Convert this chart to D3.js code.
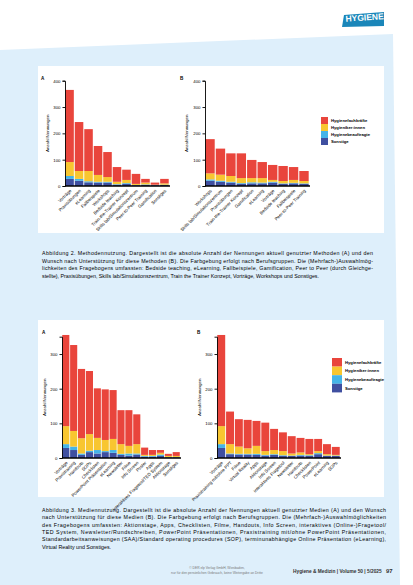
<!DOCTYPE html>
<html>
<head>
<meta charset="utf-8">
<script src="https://cdn.jsdelivr.net/npm/d3@7"></script>
<style>
  body { margin:0; background:#fff; }
  text { font-family: "Liberation Sans", Arial, sans-serif; }
</style>
</head>
<body>
<div id="page"></div>
<script>
// series: Sonstige, Hygienebeauftragte, Hygieniker:innen, Hygienefachkräfte (bottom -> top)
var series_names = ["Sonstige", "Hygienebeauftragte", "Hygieniker:innen", "Hygienefachkräfte"]
var series_colors = ["#3f4fa0", "#45b4e8", "#f8c630", "#e9453c"]
var legend_names = ["Hygienefachkräfte", "Hygieniker:innen", "Hygienebeauftragte", "Sonstige"]

// Abb. 2 A
var m_a_cats = ["Vorträge", "Praxisübungen", "eLearning", "Fallbeispiele", "Workshops", "Bedside teaching", "Train-the-Trainer Konzept", "Skills lab/Simulationszentrum", "Peer-to-Peer Training", "Gamification", "Sonstiges"]
var m_a_sonst = [27, 20, 14, 13, 13, 5, 8, 3, 4, 3, 4]
var m_a_beauf = [11, 7, 4, 3, 3, 2, 3, 1, 2, 1, 1]
var m_a_hyg   = [53, 30, 39, 26, 18, 9, 12, 4, 7, 1, 5]
var m_a_fach  = [274, 186, 159, 110, 95, 56, 39, 38, 14, 8, 17]
// Abb. 2 B
var m_b_cats = ["Workshops", "Skills lab/Simulationszentrum", "Praxisübungen", "Train-the-Trainer Konzept", "Gamification", "eLearning", "Vorträge", "Bedside teaching", "Fallbeispiele", "Peer-to-Peer Training"]
var m_b_sonst = [20, 16, 13, 8, 10, 10, 13, 8, 10, 8]
var m_b_beauf = [5, 4, 3, 3, 4, 3, 3, 2, 2, 2]
var m_b_hyg   = [23, 23, 22, 19, 16, 17, 7, 9, 11, 9]
var m_b_fach  = [130, 99, 86, 94, 69, 61, 57, 57, 49, 38]

// Abb. 3 A
var d_a_cats = ["Vorträge", "Praxistraining", "Handouts", "SOPs", "Checklisten", "PowerPoint Präsentation", "eLearning", "Newsletter", "Filme", "Info Screen", "Poster", "Apps", "interaktives Fragetool/TED System", "Aktionstage", "Sonstiges"]
var d_a_sonst = [29, 23, 9, 17, 13, 17, 15, 9, 7, 10, 4, 4, 6, 2, 2]
var d_a_beauf = [11, 10, 4, 4, 10, 3, 8, 3, 6, 3, 2, 2, 4, 1, 1]
var d_a_hyg   = [52, 45, 44, 48, 35, 32, 32, 28, 22, 27, 3, 3, 5, 3, 3]
var d_a_fach  = [263, 248, 200, 182, 143, 146, 141, 98, 103, 86, 21, 14, 8, 6, 11]
// Abb. 3 B
var d_b_cats = ["Vorträge", "Praxistraining mit/ohne PPT", "Filme", "Virtual Reality", "Apps", "Aktionstage", "Info Screen", "interaktives Fragetool", "Newsletter", "Handouts", "Checklisten", "PowerPoint", "eLearning", "SOPs"]
var d_b_sonst = [29, 11, 10, 10, 9, 7, 9, 6, 6, 7, 6, 11, 6, 6]
var d_b_beauf = [11, 2, 2, 2, 3, 2, 2, 2, 1, 2, 2, 3, 1, 1]
var d_b_hyg   = [52, 27, 21, 16, 23, 11, 12, 12, 6, 7, 3, 6, 4, 2]
var d_b_fach  = [263, 94, 79, 82, 72, 82, 61, 54, 50, 42, 44, 35, 29, 23]

var svg = d3.select("#page").append("svg")
    .attr("width", 413)
    .attr("height", 585)

// blue panel
svg.append("path")
  .attr("d", "M0,50 L393,34 L400,585 L0,585 Z")
  .attr("fill", "#deeffb")

// logo
var logo = svg.append("g").attr("transform", "translate(342,12)")
logo.append("path").attr("d", "M2,3 L42,0 L42,14 L0,15 Z").attr("fill", "#1a86b9")
logo.append("text").attr("x", 3).attr("y", 10)
  .attr("font-size", 8.5).attr("fill", "#fff").attr("font-weight", "bold")
  .attr("transform", "rotate(-4)")
  .text("HYGIENE")

// white boxes
svg.append("rect").attr("x", 38).attr("y", 66).attr("width", 346).attr("height", 167).attr("fill", "#fff")
svg.append("rect").attr("x", 38).attr("y", 320).attr("width", 346).attr("height", 177).attr("fill", "#fff")

function make_rows(cats, s0, s1, s2, s3){
  return cats.map(function(c, i){
    return {cat: c, s0: s0[i], s1: s1[i], s2: s2[i], s3: s3[i]}
  })
}

function draw_chart(cfg){
  var g = svg.append("g")
  var rows = make_rows(cfg.cats, cfg.s0, cfg.s1, cfg.s2, cfg.s3)
  var x = d3.scaleBand().domain(cfg.cats).range([cfg.x0, cfg.x1]).paddingInner(0.1).paddingOuter(0.03)
  var y = d3.scaleLinear().domain([0, cfg.ymax]).range([cfg.y0, cfg.y1])
  var stack = d3.stack().keys(["s0", "s1", "s2", "s3"])(rows)

  g.selectAll(".layer").data(stack).enter().append("g")
    .attr("fill", function(d, i){ return series_colors[i] })
    .selectAll("rect").data(function(d){ return d }).enter().append("rect")
    .attr("x", function(d){ return x(d.data.cat) })
    .attr("width", x.bandwidth())
    .attr("y", function(d){ return y(d[1]) })
    .attr("height", function(d){ return y(d[0]) - y(d[1]) })

  var ya = g.append("g").attr("transform", "translate(" + cfg.x0 + ",0)")
    .call(d3.axisLeft(y).tickValues(cfg.ticks).tickSize(2.5).tickSizeOuter(2.5).tickPadding(2))
  ya.selectAll("text").attr("font-size", 4.3).attr("font-family", "Liberation Sans, Arial")
  ya.selectAll("path, line").attr("stroke", "#000").attr("stroke-width", 0.9)

  g.append("line").attr("x1", cfg.x0).attr("x2", cfg.x1 + 1).attr("y1", cfg.y0).attr("y2", cfg.y0)
    .attr("stroke", "#000").attr("stroke-width", 1.3)

  g.selectAll(".cl").data(cfg.cats).enter().append("text")
    .attr("transform", function(d){
      return "translate(" + (x(d) + x.bandwidth() / 2 + 1) + "," + (cfg.y0 + 4) + ") rotate(-45)"
    })
    .attr("text-anchor", "end")
    .attr("dy", "0.35em")
    .attr("font-size", 4.4)
    .text(function(d){ return d })

  g.append("text")
    .attr("transform", "translate(" + cfg.tx + "," + ((cfg.y0 + cfg.y1) / 2) + ") rotate(-90)")
    .attr("text-anchor", "middle")
    .attr("font-size", 4.4)
    .text("Anzahl Nennungen")

  g.append("text").attr("x", cfg.lx).attr("y", cfg.ly).attr("font-size", 4.6).attr("font-weight", "bold").text(cfg.letter)
}

function draw_legend(lx, ly, sw, sh, fs){
  var lg = svg.append("g").attr("transform", "translate(" + lx + "," + ly + ")")
  var items = lg.selectAll("g").data(legend_names).enter().append("g")
    .attr("transform", function(d, i){ return "translate(0," + (i * sh) + ")" })
  items.append("rect").attr("width", sw).attr("height", sh)
    .attr("fill", function(d, i){ return series_colors[3 - i] })
  items.append("text").attr("x", sw + 3).attr("y", sh / 2).attr("dy", "0.35em")
    .attr("font-size", fs).attr("font-weight", "bold").text(function(d){ return d })
}

// Abbildung 2
draw_chart({cats: m_a_cats, s0: m_a_sonst, s1: m_a_beauf, s2: m_a_hyg, s3: m_a_fach,
  x0: 65, x1: 169, y0: 186, y1: 80.7, ymax: 400, ticks: [0, 100, 200, 300, 400], tx: 49, lx: 41, ly: 80, letter: "A"})
draw_chart({cats: m_b_cats, s0: m_b_sonst, s1: m_b_beauf, s2: m_b_hyg, s3: m_b_fach,
  x0: 205, x1: 309, y0: 186, y1: 80.7, ymax: 400, ticks: [0, 100, 200, 300, 400], tx: 188, lx: 180, ly: 80, letter: "B"})
draw_legend(321, 117, 7, 7, 4.2)

// Abbildung 3
draw_chart({cats: d_a_cats, s0: d_a_sonst, s1: d_a_beauf, s2: d_a_hyg, s3: d_a_fach,
  x0: 62, x1: 180, y0: 458, y1: 336.7, ymax: 350, ticks: [0, 100, 200, 300], tx: 46, lx: 42, ly: 334, letter: "A"})
draw_chart({cats: d_b_cats, s0: d_b_sonst, s1: d_b_beauf, s2: d_b_hyg, s3: d_b_fach,
  x0: 217, x1: 340, y0: 458, y1: 336.7, ymax: 350, ticks: [0, 100, 200, 300], tx: 201, lx: 197, ly: 334, letter: "B"})
draw_legend(332, 358, 10, 8.6, 4.2)

// captions
var cap2_lines = [
  "Abbildung 2. Methodennutzung. Dargestellt ist die absolute Anzahl der Nennungen aktuell genutzter Methoden (A) und den",
  "Wunsch nach Unterstützung für diese Methoden (B). Die Farbgebung erfolgt nach Berufsgruppen. Die (Mehrfach-)Auswahlmög-",
  "lichkeiten des Fragebogens umfassten: Bedside teaching, eLearning, Fallbeispiele, Gamification, Peer to Peer (durch Gleichge-",
  "stellte), Praxisübungen, Skills lab/Simulationszentrum, Train the Trainer Konzept, Vorträge, Workshops und Sonstiges."
]
var cap3_lines = [
  "Abbildung 3. Mediennutzung. Dargestellt ist die absolute Anzahl der Nennungen aktuell genutzter Medien (A) und den Wunsch",
  "nach Unterstützung für diese Medien (B). Die Farbgebung erfolgt nach Berufsgruppen. Die (Mehrfach-)Auswahlmöglichkeiten",
  "des Fragebogens umfassten: Aktionstage, Apps, Checklisten, Filme, Handouts, Info Screen, interaktives (Online-)Fragetool/",
  "TED System, Newsletter/Rundschreiben, PowerPoint Präsentationen, Praxistraining mit/ohne PowerPoint Präsentationen,",
  "Standardarbeitsanweisungen (SAA)/Standard operating procedures (SOP), terminunabhängige Online Präsentation (eLearning),",
  "Virtual Reality und Sonstiges."
]

function draw_caption(lines, x, y, w, lh){
  svg.append("g").selectAll("text").data(lines).enter().append("text")
    .attr("x", x)
    .attr("y", function(d, i){ return y + i * lh })
    .attr("font-size", 5.3)
    .attr("textLength", function(d, i){ return i < lines.length - 1 ? w : null })
    .attr("lengthAdjust", "spacing")
    .text(function(d){ return d })
}
draw_caption(cap2_lines, 42, 255, 331, 7.6)
draw_caption(cap3_lines, 42, 512, 344, 7.3)

// footer
svg.append("text").attr("x", 217).attr("y", 569).attr("text-anchor", "middle")
  .attr("font-size", 3.3).attr("fill", "#777").text("© DER elp Verlag GmbH, Wiesbaden,")
svg.append("text").attr("x", 217).attr("y", 574).attr("text-anchor", "middle")
  .attr("font-size", 3.3).attr("fill", "#777").text("nur für den persönlichen Gebrauch, keine Weitergabe an Dritte")
svg.append("text").attr("x", 293).attr("y", 572.5)
  .attr("font-size", 4.8).attr("font-weight", "bold").attr("fill", "#333").text("Hygiene & Medizin | Volume 50 | 5/2025")
svg.append("text").attr("x", 386).attr("y", 573)
  .attr("font-size", 6).attr("font-weight", "bold").attr("fill", "#333").text("97")
</script>
</body>
</html>
